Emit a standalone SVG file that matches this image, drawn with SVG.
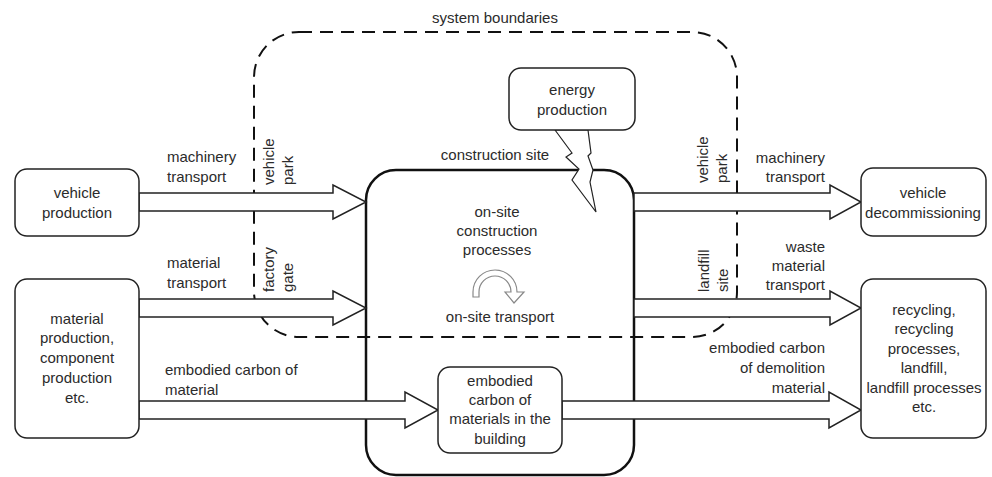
<svg xmlns="http://www.w3.org/2000/svg" width="992" height="477" viewBox="0 0 992 477">
<style>
  text { font-family: "Liberation Sans", Arial, sans-serif; font-size: 15px; fill: #2b2b2b; }
  .c { text-anchor: middle; }
  .e { text-anchor: end; }
  .box { fill: #fff; stroke: #222; stroke-width: 1.5; }
  .site { fill: none; stroke: #111; stroke-width: 2.5; }
  .bound { fill: none; stroke: #111; stroke-width: 2; stroke-dasharray: 13 8; }
  .arrow { fill: #fff; stroke: #222; stroke-width: 1.5; stroke-linejoin: miter; }
  .bolt { fill: #fff; stroke: #222; stroke-width: 1.2; }
  .circ { fill: #fff; stroke: #888; stroke-width: 1.2; }
</style>
<rect width="992" height="477" fill="#fff"/>

<g id="system-boundary">
  <rect class="bound" x="254" y="32" width="483" height="305" rx="45" ry="45"/>
  <text class="c" x="495" y="23">system boundaries</text>
</g>

<g id="construction-site">
  <rect class="site" x="366" y="170" width="268" height="305" rx="30" ry="30"/>
  <text class="c" x="495" y="160">construction site</text>
  <text class="c" x="497" y="217">on-site</text>
  <text class="c" x="497" y="236">construction</text>
  <text class="c" x="497" y="255">processes</text>
  <path class="circ" d="M473,297 L473,292 A22,22 0 0 1 517,292 L524,292 L514,303 L505,292 L511,292 A16,16 0 0 0 479,292 L479,297 Z"/>
  <text class="c" x="500" y="322">on-site transport</text>
</g>

<g id="energy-production">
  <polygon class="bolt" points="555,130 572,153 566,157 579,169 572,180 596,212 590,182 593,170 588,156 591,153 588,130"/>
  <rect class="box" x="509" y="68" width="126" height="62" rx="12" ry="12"/>
  <text class="c" x="572" y="95">energy</text>
  <text class="c" x="572" y="115">production</text>
</g>

<g id="connectors">
  <polygon class="arrow" points="139,193 333,193 333,185 366,202 333,219 333,211 139,211"/>
  <polygon class="arrow" points="139,299 333,299 333,291 366,308 333,325 333,317 139,317"/>
  <polygon class="arrow" points="139,401 405,401 405,392 438,410 405,428 405,419 139,419"/>
  <polygon class="arrow" points="634,193 830,193 830,185 861,202 830,219 830,211 634,211"/>
  <polygon class="arrow" points="634,299 830,299 830,291 861,308 830,325 830,317 634,317"/>
  <polygon class="arrow" points="562,401 829,401 829,392 861,410 829,428 829,419 562,419"/>
</g>

<g id="labels">
  <text x="167" y="162">machinery</text>
  <text x="167" y="182">transport</text>
  <text x="167" y="268">material</text>
  <text x="167" y="288">transport</text>
  <text x="165" y="375">embodied carbon of</text>
  <text x="165" y="395">material</text>
  <text class="e" x="825" y="163">machinery</text>
  <text class="e" x="825" y="182">transport</text>
  <text class="e" x="825" y="252">waste</text>
  <text class="e" x="825" y="271">material</text>
  <text class="e" x="825" y="290">transport</text>
  <text class="e" x="825" y="353">embodied carbon</text>
  <text class="e" x="825" y="373">of demolition</text>
  <text class="e" x="825" y="393">material</text>
  <text x="274" y="185" transform="rotate(-90 274 185)">vehicle</text>
  <text x="293" y="185" transform="rotate(-90 293 185)">park</text>
  <text x="274" y="292" transform="rotate(-90 274 292)">factory</text>
  <text x="293" y="292" transform="rotate(-90 293 292)">gate</text>
  <text x="708" y="183" transform="rotate(-90 708 183)">vehicle</text>
  <text x="727" y="183" transform="rotate(-90 727 183)">park</text>
  <text x="709" y="292" transform="rotate(-90 709 292)">landfill</text>
  <text x="728" y="292" transform="rotate(-90 728 292)">site</text>
</g>

<g id="vehicle-production">
  <rect class="box" x="15" y="169" width="124" height="67" rx="12" ry="12"/>
  <text class="c" x="77" y="198">vehicle</text>
  <text class="c" x="77" y="218">production</text>
</g>

<g id="material-production">
  <rect class="box" x="15" y="279" width="124" height="159" rx="12" ry="12"/>
  <text class="c" x="77" y="324">material</text>
  <text class="c" x="77" y="343">production,</text>
  <text class="c" x="77" y="363">component</text>
  <text class="c" x="77" y="383">production</text>
  <text class="c" x="77" y="403">etc.</text>
</g>

<g id="embodied-carbon">
  <rect class="box" x="438" y="367" width="124" height="86" rx="12" ry="12"/>
  <text class="c" x="500" y="386">embodied</text>
  <text class="c" x="500" y="405">carbon of</text>
  <text class="c" x="500" y="424">materials in the</text>
  <text class="c" x="500" y="444">building</text>
</g>

<g id="vehicle-decommissioning">
  <rect class="box" x="861" y="168" width="125" height="68" rx="12" ry="12"/>
  <text class="c" x="923" y="198">vehicle</text>
  <text class="c" x="923" y="218">decommissioning</text>
</g>

<g id="recycling">
  <rect class="box" x="861" y="279" width="125" height="159" rx="12" ry="12"/>
  <text class="c" x="924" y="315">recycling,</text>
  <text class="c" x="924" y="334">recycling</text>
  <text class="c" x="924" y="354">processes,</text>
  <text class="c" x="924" y="373">landfill,</text>
  <text class="c" x="924" y="393">landfill processes</text>
  <text class="c" x="924" y="412">etc.</text>
</g>
</svg>
